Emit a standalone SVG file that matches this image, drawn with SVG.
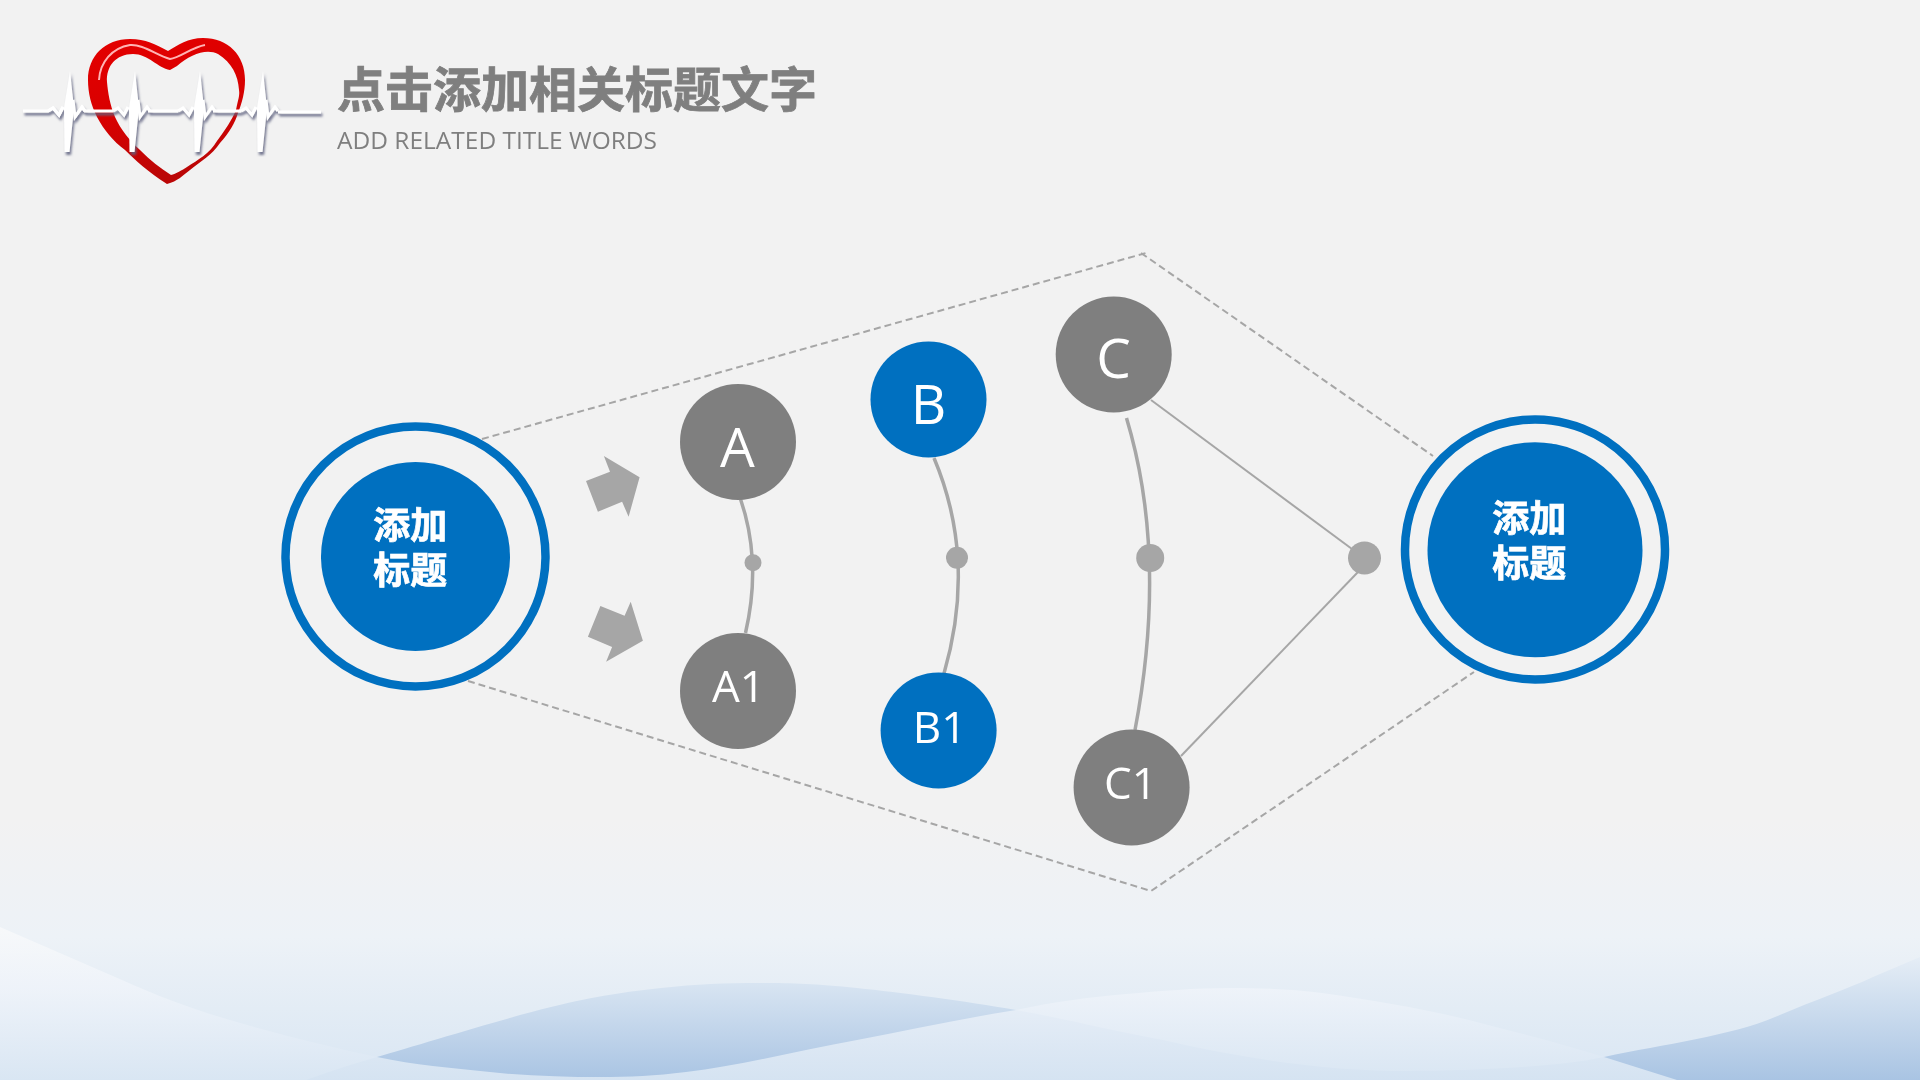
<svg xmlns="http://www.w3.org/2000/svg" xmlns:xlink="http://www.w3.org/1999/xlink" width="1920" height="1080" viewBox="0 0 1920 1080">
<style>
.cjk{font-family:"Noto Sans CJK SC","Microsoft YaHei",sans-serif;font-weight:700;}
.lat{font-family:"Open Sans","Noto Sans",sans-serif;fill:#fff;text-anchor:middle;}
.big{font-size:55px;}
.mid{font-size:44px;}
.hub{fill:#fff;stroke:#fff;stroke-width:0.7;font-size:37px;text-anchor:middle;}
.gray{fill:#7f7f7f;}
.head{stroke:#7f7f7f;stroke-width:0.8;}
.blue{fill:#0070c0;}
.dot{fill:#a6a6a6;}
.ring{fill:none;stroke:#0070c0;stroke-width:8.5;}
.dash{fill:none;stroke:#a6a6a6;stroke-width:2;stroke-dasharray:7 4;}
.arc{fill:none;stroke:#a6a6a6;stroke-width:3.5;}
.link{fill:none;stroke:#a6a6a6;stroke-width:2;}
</style>
<defs>
<linearGradient id="bg" x1="0" y1="820" x2="0" y2="1080" gradientUnits="userSpaceOnUse">
<stop offset="0" stop-color="#f2f2f2"/><stop offset="0.45" stop-color="#edf2f7"/><stop offset="1" stop-color="#d9e6f3"/>
</linearGradient>
<linearGradient id="wave1" x1="0" y1="955" x2="0" y2="1080" gradientUnits="userSpaceOnUse">
<stop offset="0" stop-color="#e6eef6"/><stop offset="1" stop-color="#a9c4e3"/>
</linearGradient>
<linearGradient id="wave2" x1="0" y1="927" x2="0" y2="1080" gradientUnits="userSpaceOnUse">
<stop offset="0" stop-color="#f9fafb" stop-opacity="0.8"/><stop offset="0.4" stop-color="#f0f4fa" stop-opacity="0.8"/><stop offset="1" stop-color="#d9e6f3" stop-opacity="0.92"/>
</linearGradient>
<linearGradient id="heart" x1="0" y1="0" x2="0.25" y2="1">
<stop offset="0" stop-color="#e40000"/><stop offset="0.55" stop-color="#d80000"/><stop offset="1" stop-color="#bb0606"/>
</linearGradient>
<filter id="shadow" x="-5%" y="-10%" width="110%" height="120%">
<feDropShadow dx="1.5" dy="3" stdDeviation="1" flood-color="#5f6380" flood-opacity="0.85"/>
</filter>
<filter id="soft" x="-5%" y="-20%" width="110%" height="140%"><feGaussianBlur stdDeviation="0.7"/></filter>
<g id="beat">
<path d="M-22,111 L-17,108 L-11,115 L-7,107" fill="none" stroke="#fff" stroke-width="3"/>
<path d="M0,71 L4,108 L-0.5,152 L-5.5,152 L-6,108 Z" fill="#fff"/>
<path d="M3,100 L5,117 L12,107 L15,111" fill="none" stroke="#fff" stroke-width="3"/>
</g>
</defs>
<rect width="1920" height="1080" fill="#f2f2f2"/>
<rect y="820" width="1920" height="260" fill="url(#bg)"/>
<path id="wave-back" d="M306,1080 C318,1076 336,1069 377,1057 C418,1045 504,1018.5 551,1007 C598,995.5 626,992 661,988 C696,984 726,983 759,983 C792,983 814,983.5 857,988 C900,992.5 965,1001 1016,1010 C1067,1019 1108,1030 1163,1040 C1250,1060 1330,1071 1408,1071 C1470,1071 1560,1067 1604,1057 C1665,1044 1730,1036 1775,1017 C1815,1000 1845,990 1873,977 L1920,957 L1920,1080 Z" fill="url(#wave1)"/>
<path id="wave-front" d="M0,927 L122,980 C155,995 190,1008 220,1017 C262,1030 330,1047 377,1057 C415,1065 450,1068 490,1072 C527,1076 565,1077 600,1077 C630,1077 655,1076 686,1072 C740,1066 800,1050 857,1040 C910,1030 965,1018 1016,1010 C1052,1002 1090,997 1126,994 C1160,991 1195,988 1230,988 C1262,988 1292,989 1322,993 C1372,1000 1420,1008 1469,1020 C1515,1032 1560,1043 1604,1057 L1677,1080 L0,1080 Z" fill="url(#wave2)"/>
<g id="logo">
<path fill="url(#heart)" fill-rule="evenodd" d="M168,51 C155,44 146,39 130,39 C105,39 88,56 88,80 C88,93 91,105 97,117 C104,130 113,141 125,150 C135,160 148,172 167,184 C178,181 182,176 190,170 C200,162 212,155 220,143 C229,133 235,123 238,113 C242,103 245,92 245,80 C245,55 228,38 203,38 C188,38 178,45 168,51 Z M170,70 C158,68 148,54 133,54 C116,54 106,66 107,82 C108,93 110,105 115,117 C121,130 130,141 140,150 C150,160 160,168 171,175 C176,174 182,170 187,167 C198,160 210,153 217,141 C225,130 232,120 236,110 C238,100 240,95 239,90 C238,75 232,63 218,54 C207,48 190,54 177,66 Z"/>
<path d="M99,80 C100,62 112,48 130,45 C143,44 156,55 170,59 C180,58 192,47 205,45" fill="none" stroke="#ffb4b4" stroke-width="2" filter="url(#soft)"/>
<g filter="url(#shadow)">
<path d="M23,111 L48,111 L53,108 L59,115 L63,107 M75,117 L82,107 L85,111 L113,111 M148,111 L178,111 M213,111 L241,111 M278,112 L321,112" fill="none" stroke="#fff" stroke-width="3"/>
<use xlink:href="#beat" href="#beat" x="70"/>
<use xlink:href="#beat" href="#beat" x="135"/>
<use xlink:href="#beat" href="#beat" x="200"/>
<use xlink:href="#beat" href="#beat" x="263"/>
</g>
</g>
<g id="title">
<text class="cjk gray head" x="337" y="107" font-size="48">点击添加相关标题文字</text>
<text x="337" y="148.5" font-size="24.5" textLength="320" lengthAdjust="spacingAndGlyphs" fill="#7f7f7f" font-family="'Open Sans','Noto Sans',sans-serif">ADD RELATED TITLE WORDS</text>
</g>
<g id="connectors">
<path class="dash" d="M482,439 L1146,253 M1141,253 L1433,456"/>
<path class="dash" d="M468,681 L1151,891 L1474,672"/>
<path class="arc" d="M740.5,499 Q762,562 745.5,633"/>
<path class="arc" d="M934,458 Q977,560 944,673.5"/>
<path class="arc" d="M1126.5,418 Q1168,556 1135,730"/>
<path class="link" d="M1151,400 L1352,549"/>
<path class="link" d="M1181,756 L1358,572"/>
</g>
<g id="arrows">
<polygon class="dot" points="586,481 610,471.7 603.9,456 639.6,477.3 628.6,516.7 622.1,501.7 597.9,511.7"/>
<polygon class="dot" points="600.4,606 624.6,615.7 630.7,601.7 642.9,640.7 606.1,661.7 612.1,647 587.9,636.7"/>
</g>
<g id="hub-left">
<circle class="ring" cx="415.5" cy="556.5" r="130"/>
<circle class="blue" cx="415.5" cy="556.5" r="94.5"/>
<text class="cjk hub" x="410.2" y="539">添加</text>
<text class="cjk hub" x="410.2" y="584">标题</text>
</g>
<g id="hub-right">
<circle class="ring" cx="1535" cy="549.5" r="130"/>
<circle class="blue" cx="1535" cy="549.8" r="107.5"/>
<text class="cjk hub" x="1529.2" y="532">添加</text>
<text class="cjk hub" x="1529.2" y="577">标题</text>
</g>
<g id="node-a"><circle class="gray" cx="738" cy="442" r="58"/><text class="lat big" x="737.5" y="466.7">A</text></g>
<g id="node-a1"><circle class="gray" cx="738" cy="691" r="58"/><text class="lat mid" x="738.5" y="702">A1</text></g>
<g id="node-b"><circle class="blue" cx="928.5" cy="399.5" r="58"/><text class="lat big" x="928.5" y="424">B</text></g>
<g id="node-b1"><circle class="blue" cx="938.6" cy="730.4" r="58"/><text class="lat mid" x="939.5" y="743">B1</text></g>
<g id="node-c"><circle class="gray" cx="1113.7" cy="354.5" r="58"/><text class="lat big" x="1113.5" y="378">C</text></g>
<g id="node-c1"><circle class="gray" cx="1131.6" cy="787.5" r="58"/><text class="lat mid" x="1130.5" y="799">C1</text></g>
<g id="dot-a"><circle class="dot" cx="753" cy="562.7" r="8.5"/></g>
<g id="dot-b"><circle class="dot" cx="957" cy="557.8" r="11"/></g>
<g id="dot-c"><circle class="dot" cx="1150.2" cy="558" r="14"/></g>
<g id="dot-hub"><circle class="dot" cx="1364.5" cy="558" r="16.5"/></g>
</svg>
